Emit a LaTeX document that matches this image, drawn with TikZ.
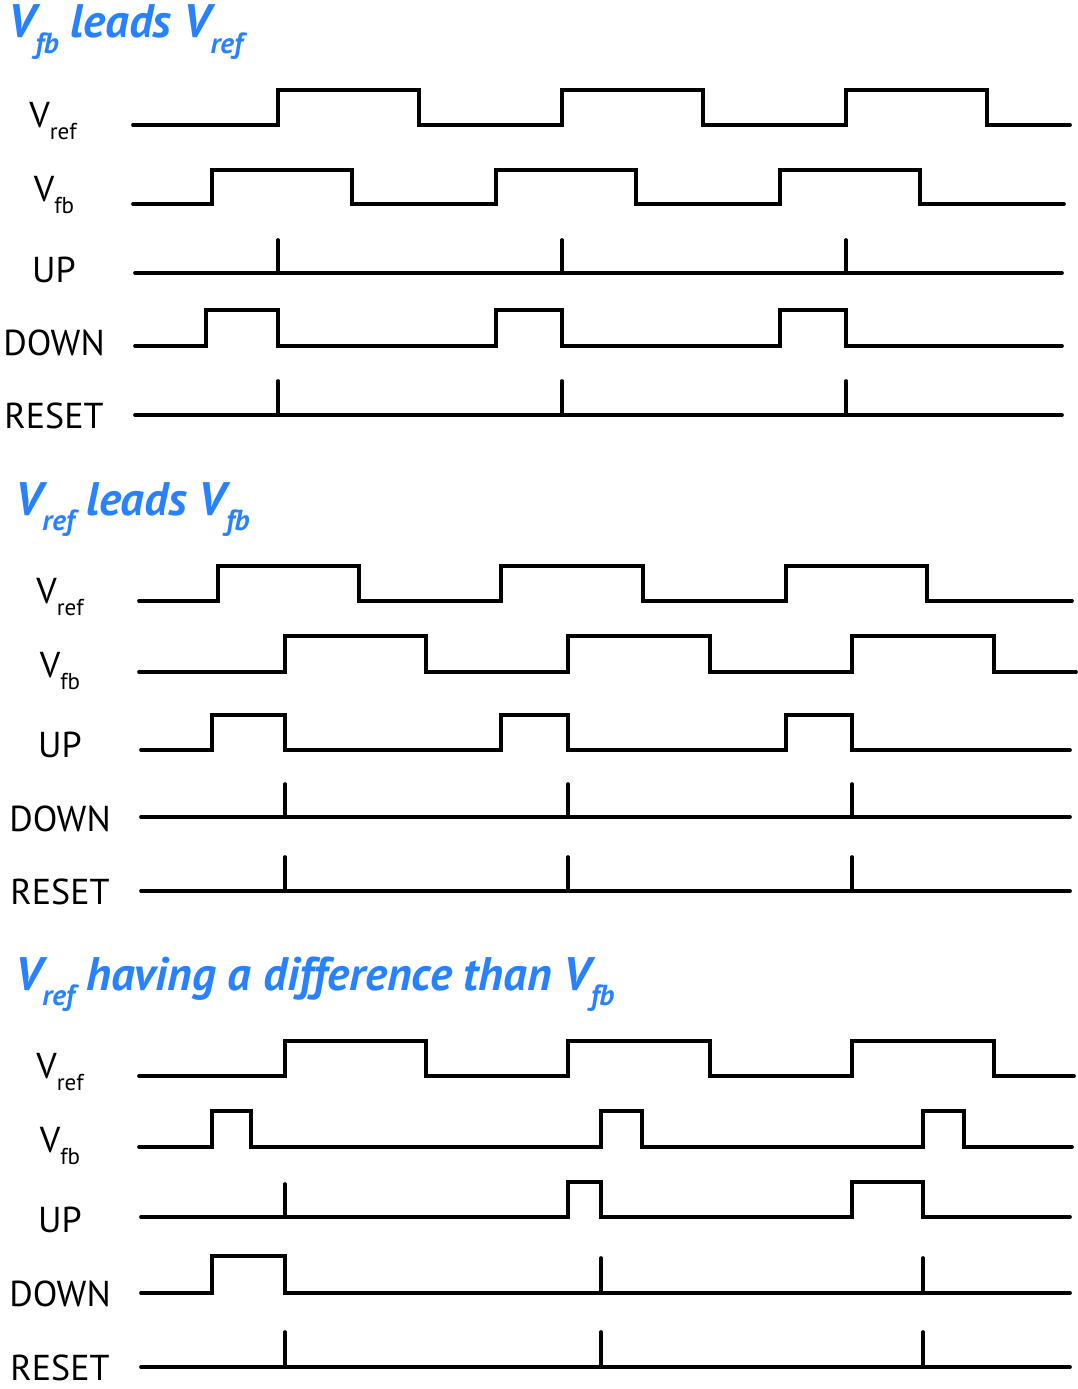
\documentclass[tikz,border=0pt]{standalone}
\usepackage{fontspec}
\setmainfont{PT Sans}
\definecolor{ttlblue}{RGB}{40,130,255}
\newcommand{\lblsub}[2]{#1\raisebox{-0.36em}{\fontsize{23}{23}\selectfont #2}}
\newcommand{\ttlsub}[1]{\raisebox{-0.32em}{\fontsize{29}{29}\selectfont #1}}
\begin{document}
\begin{tikzpicture}[x=1pt,y=-1pt,
  wave/.style={line width=3.7pt,line join=miter,line cap=round},
  lbl/.style={anchor=base,inner sep=0pt,font=\fontsize{36}{36}\selectfont},
  ttl/.style={anchor=base west,inner sep=0pt,text=ttlblue,font=\fontsize{47}{47}\selectfont\bfseries\itshape}]
\useasboundingbox (0,0) rectangle (1078,1389);
% ---------- Panel 1 ----------
\node[ttl] (t1) at (8,38) {V\ttlsub{fb} leads V\ttlsub{ref}};
\node[lbl] (a1) at (53,127) {\lblsub{V}{ref}};
\node[lbl] (b1) at (54,201) {\lblsub{V}{fb}};
\node[lbl] (c1) at (54,282) {UP};
\node[lbl] (d1) at (54,355) {DOWN};
\node[lbl] (e1) at (54,428) {RESET};
\draw[wave] (133,125) -| (278,90) -| (419,125) -| (562,90) -| (703,125) -| (846,90) -| (987,125) -- (1070,125);
\draw[wave] (133,204) -| (212,170) -| (352,204) -| (496,170) -| (636,204) -| (780,170) -| (920,204) -- (1064,204);
\draw[wave] (135,273) -- (1062,273);
\foreach \x in {278,562,846} \draw[wave] (\x,273) -- (\x,240);
\draw[wave] (135,346) -| (206,310) -| (278,346) -| (496,310) -| (562,346) -| (780,310) -| (846,346) -- (1062,346);
\draw[wave] (135,415) -- (1062,415);
\foreach \x in {278,562,846} \draw[wave] (\x,415) -- (\x,381);
% ---------- Panel 2 ----------
\node[ttl] (t2) at (15,515) {V\ttlsub{ref} leads V\ttlsub{fb}};
\node[lbl] (a2) at (60,603) {\lblsub{V}{ref}};
\node[lbl] (b2) at (60,677) {\lblsub{V}{fb}};
\node[lbl] (c2) at (60,757) {UP};
\node[lbl] (d2) at (60,831) {DOWN};
\node[lbl] (e2) at (60,904) {RESET};
\draw[wave] (139,601) -| (218,566) -| (359,601) -| (501,566) -| (643,601) -| (786,566) -| (927,601) -- (1072,601);
\draw[wave] (139,672) -| (285,636) -| (426,672) -| (568,636) -| (710,672) -| (852,636) -| (994,672) -- (1076,672);
\draw[wave] (141,750) -| (212,715) -| (285,750) -| (501,715) -| (568,750) -| (786,715) -| (852,750) -- (1070,750);
\draw[wave] (141,817) -- (1070,817);
\foreach \x in {285,568,852} \draw[wave] (\x,817) -- (\x,784);
\draw[wave] (141,891) -- (1070,891);
\foreach \x in {285,568,852} \draw[wave] (\x,891) -- (\x,857);
% ---------- Panel 3 ----------
\node[ttl] (t3) at (15,990) {V\ttlsub{ref} having a difference than V\ttlsub{fb}};
\node[lbl] (a3) at (60,1078) {\lblsub{V}{ref}};
\node[lbl] (b3) at (60,1152) {\lblsub{V}{fb}};
\node[lbl] (c3) at (60,1232) {UP};
\node[lbl] (d3) at (60,1306) {DOWN};
\node[lbl] (e3) at (60,1380) {RESET};
\draw[wave] (139,1076) -| (285,1041) -| (426,1076) -| (568,1041) -| (710,1076) -| (852,1041) -| (994,1076) -- (1074,1076);
\draw[wave] (139,1147) -| (212,1111) -| (251,1147) -| (601,1111) -| (642,1147) -| (923,1111) -| (964,1147) -- (1072,1147);
\draw[wave] (141,1217) -| (568,1182) -| (601,1217) -| (852,1182) -| (923,1217) -- (1070,1217);
\draw[wave] (285,1217) -- (285,1184);
\draw[wave] (141,1293) -| (212,1256) -| (285,1293) -- (1070,1293);
\foreach \x in {601,923} \draw[wave] (\x,1293) -- (\x,1258);
\draw[wave] (141,1367) -- (1070,1367);
\foreach \x in {285,601,923} \draw[wave] (\x,1367) -- (\x,1332);
\end{tikzpicture}
\end{document}
